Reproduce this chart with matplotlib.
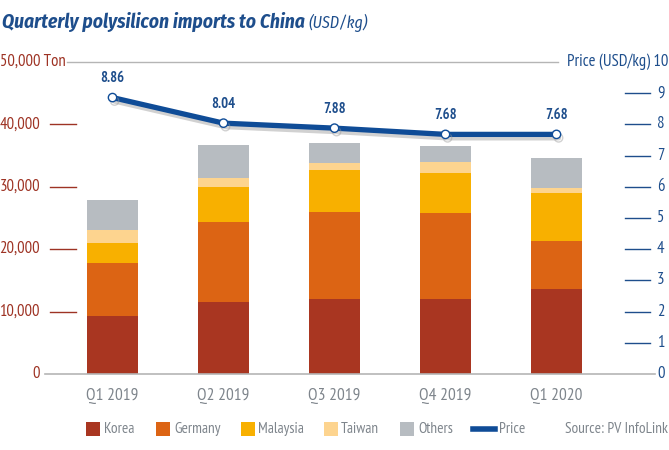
import matplotlib
matplotlib.use("Agg")
import matplotlib.pyplot as plt
import matplotlib.patheffects as pe
import matplotlib.transforms as mtransforms
from matplotlib.patches import Rectangle
import numpy as np

# ---- data ----
quarters = ["Q1 2019", "Q2 2019", "Q3 2019", "Q4 2019", "Q1 2020"]
korea = [9300, 11500, 12000, 12000, 13600]
germany = [8500, 12850, 13950, 13800, 7700]
malaysia = [3200, 5600, 6750, 6400, 7700]
taiwan = [2100, 1450, 1100, 1750, 800]
others = [4800, 5300, 3200, 2600, 4800]
price = [8.86, 8.04, 7.88, 7.68, 7.68]
price_labels = ["8.86", "8.04", "7.88", "7.68", "7.68"]
series_names = ["Korea", "Germany", "Malaysia", "Taiwan", "Others"]
left_ticks = [0, 10000, 20000, 30000, 40000]
left_tick_labels = ["0", "10,000", "20,000", "30,000", "40,000"]
right_ticks = [0, 1, 2, 3, 4, 5, 6, 7, 8, 9]

colors = ["#A93621", "#DC6414", "#F8B000", "#FDD48F", "#B7BCC1"]
price_color = "#0F4C97"
label_blue = "#1E4E8C"
red_text = "#9E3324"
gray_text = "#7E858C"

FONT = ["PT Sans Narrow", "DejaVu Sans"]
TITLE_FONT = ["Fira Sans Condensed", "DejaVu Sans"]
plt.rcParams["font.family"] = FONT

W, H = 669, 450
fig = plt.figure(figsize=(W / 100, H / 100), dpi=100)

L, R, B, T = 45, 655, 374, 62
ax = fig.add_axes([L / W, 1 - B / H, (R - L) / W, (B - T) / H])
x = np.arange(len(quarters))
px_per_unit = 111.0
ax.set_xlim((L - 112.5) / px_per_unit, (R - 112.5) / px_per_unit)
ax.set_ylim(0, 50000)

bottom = np.zeros(len(quarters))
for vals, c in zip([korea, germany, malaysia, taiwan, others], colors):
    ax.bar(x, vals, width=0.46, bottom=bottom, color=c, zorder=2)
    bottom += np.array(vals)

for s in ax.spines.values():
    s.set_visible(False)
ax.set_xticks([])
ax.set_yticks([])

def axfrac(px):
    return (px - L) / (R - L)

trans = mtransforms.blended_transform_factory(ax.transAxes, ax.transData)
ax.plot([0, 1], [0, 0], transform=trans, color="#B5B5B5", lw=1.2, clip_on=False, zorder=3)
ax.plot([axfrac(67), axfrac(558)], [50000, 50000], transform=trans, color="#B5B5B5", lw=1.0, clip_on=False)

LBL = 12
for v, lab in zip(left_ticks, left_tick_labels):
    ax.text(axfrac(40), v, lab, transform=trans, ha="right", va="center",
            color=red_text, fontsize=LBL)
    if v > 0:
        ax.plot([axfrac(50), axfrac(76)], [v, v], transform=trans, color=red_text,
                lw=1.0, clip_on=False)
ax.text(axfrac(0), 50000, "50,000 Ton", transform=trans, ha="left", va="center",
        color=red_text, fontsize=LBL)

ax2 = ax.twinx()
ax2.set_ylim(0, 10)
ax2.set_xlim(ax.get_xlim())
for s in ax2.spines.values():
    s.set_visible(False)
ax2.set_yticks([])
trans2 = mtransforms.blended_transform_factory(ax2.transAxes, ax2.transData)
for v in right_ticks:
    ax2.text(axfrac(657), v, str(v), transform=trans2, ha="left", va="center",
             color=label_blue, fontsize=LBL)
    if v > 0:
        ax2.plot([axfrac(625), axfrac(650)], [v, v], transform=trans2, color=label_blue,
                 lw=1.0, clip_on=False)
ax2.text(axfrac(668), 10, "Price (USD/kg) 10", transform=trans2, ha="right", va="center",
         color=label_blue, fontsize=LBL)

ax2.plot(x, price, color=price_color, lw=3.8, solid_capstyle="round", zorder=5,
         marker="o", markersize=6, markerfacecolor="white", markeredgecolor=price_color,
         markeredgewidth=1.0,
         path_effects=[pe.SimpleLineShadow(offset=(1.5, -2.5), shadow_color="#9a9a9a", alpha=0.45),
                       pe.Normal()])
for xi, p, lab in zip(x, price, price_labels):
    ax2.annotate(lab, (xi, p), xytext=(0, 9), textcoords="offset points",
                 ha="center", va="bottom", color=label_blue, fontsize=10.5,
                 fontweight="bold")

for xi, q in zip(x, quarters):
    ax.text(xi, -0.07, q, transform=mtransforms.blended_transform_factory(ax.transData, ax.transAxes),
            ha="center", va="center", color=gray_text, fontsize=12.5)

def fpx(xp, yp):
    return xp / W, 1 - yp / H

t1 = fig.text(*fpx(2, 22), "Quarterly polysilicon imports to China", ha="left", va="center",
              color=label_blue, fontsize=14, fontweight="bold", fontstyle="italic",
              family=TITLE_FONT)
fig.canvas.draw()
bb = t1.get_window_extent()
fig.text((bb.x1 + 4) / W, 1 - 23 / H, "(USD/kg)", ha="left", va="center",
         color=label_blue, fontsize=11.5, fontstyle="italic", family=TITLE_FONT)

leg_y = 429
sq = 14
leg_items = [(86, 104), (156, 174), (241, 258), (324, 341), (400, 418)]
for (sx, tx), name, c in zip(leg_items, series_names, colors):
    fig.add_artist(Rectangle((sx / W, 1 - (leg_y + sq / 2) / H), sq / W, sq / H,
                             transform=fig.transFigure, color=c, lw=0))
    fig.text(*fpx(tx, leg_y), name, ha="left", va="center", color=gray_text, fontsize=11)
fig.add_artist(plt.Line2D([473 / W, 495 / W], [1 - leg_y / H, 1 - leg_y / H],
                          transform=fig.transFigure, color=price_color, lw=4))
fig.text(*fpx(499, leg_y), "Price", ha="left", va="center", color=gray_text, fontsize=11)
fig.text(*fpx(668, leg_y), "Source: PV InfoLink", ha="right", va="center",
         color=gray_text, fontsize=11)

fig.savefig("out.png", dpi=100)
